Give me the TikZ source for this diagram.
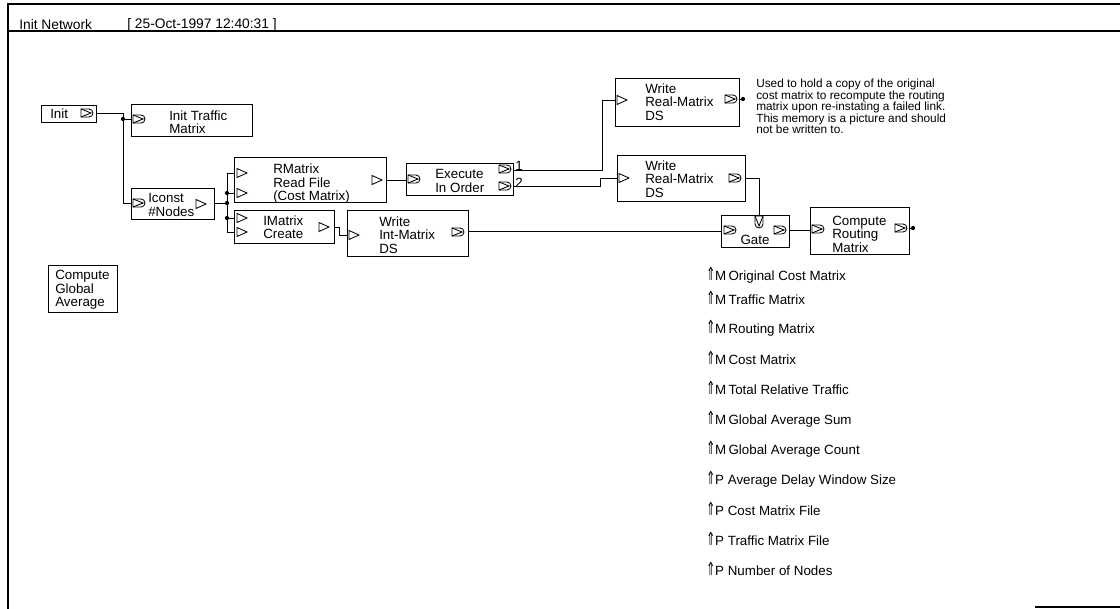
\documentclass[tikz,border=0pt]{standalone}
\usepackage{fontspec}
\usepackage{graphicx}
\setmainfont{Liberation Sans}
\newfontfamily\arrowfont{DejaVu Sans}
\usetikzlibrary{fit,positioning}

\tikzset{
  blk/.style={draw, line width=0.7pt, inner sep=0pt},
  txt/.style={anchor=west, inner sep=0pt, align=left, font=\fontsize{9.5}{9.6}\selectfont},
  note/.style={anchor=north west, inner sep=0pt, align=left, font=\fontsize{8.4}{8.1}\selectfont},
  item/.style={anchor=west, inner sep=0pt, font=\fontsize{9.5}{11}\selectfont},
  wire/.style={line width=0.7pt},
  jdot/.style={circle, fill, inner sep=0pt, minimum size=3pt},
  tri/.pic={\draw[line width=0.6pt] (-4,-4.5) -- (6,0) -- (-4,4.5) -- cycle;},
  dport/.pic={\draw[line width=0.6pt] (-6,-4) -- (2,-4) arc[start angle=-90, end angle=90, radius=4] -- (-6,4) -- cycle;
              \draw[line width=0.6pt] (-6,-4) -- (4,0) -- (-6,4);}
}
\newcommand{\uparr}{\scalebox{0.8}[1.35]{\arrowfont ⇑}}

\begin{document}
\begin{tikzpicture}[x=0.025cm, y=-0.025cm]
\useasboundingbox (0,0) rectangle (1120,609);

% frame and title bar
\draw[line width=0.8pt] (1120,4) -- (8,4) -- (8,609);
\draw[line width=0.8pt] (8,31) -- (1120,31);
\draw[line width=0.8pt] (1035,607) -- (1120,607);
\node[anchor=west, inner sep=0pt, font=\fontsize{9.8}{11}\selectfont] (title) at (19,25) {Init Network};
\node[anchor=west, inner sep=0pt, font=\fontsize{9.8}{11}\selectfont] (stamp) at (127,25) {[ 25-Oct-1997 12:40:31 ]};

% blocks
\node[blk, fit={(41,105) (96,122)}] (init) {};
\node[blk, fit={(131,104) (252,136)}] (itm) {};
\node[blk, fit={(131,188) (214,219)}] (iconst) {};
\node[blk, fit={(234,157) (386,202)}] (rmat) {};
\node[blk, fit={(234,210) (334,243)}] (imat) {};
\node[blk, fit={(347,210) (468,256)}] (wim) {};
\node[blk, fit={(406,163) (513,195)}] (exec) {};
\node[blk, fit={(615,78) (739,126)}] (wrm1) {};
\node[blk, fit={(617,155) (745,201)}] (wrm2) {};
\node[blk, fit={(721,215) (789,247)}] (gate) {};
\node[blk, fit={(810,207) (909,254)}] (crm) {};
\node[blk, fit={(48,265) (117,312)}] (cga) {};

% block texts
\node[txt] (init-t) at (50,114) {Init};
\node[txt] (itm-t) at (169,122) {Init Traffic\\Matrix};
\node[txt] (iconst-t) at (148,205) {Iconst\\\#Nodes};
\node[txt] (rmat-t) at (273,184) {RMatrix\\Read File\\(Cost Matrix)};
\node[txt] (imat-t) at (263,227) {IMatrix\\Create};
\node[txt] (wim-t) at (379,235) {Write\\Int-Matrix\\DS};
\node[txt] (exec-t) at (435,181) {Execute\\In Order};
\node[txt] (wrm1-t) at (645,102) {Write\\Real-Matrix\\DS};
\node[txt] (wrm2-t) at (645,179) {Write\\Real-Matrix\\DS};
\node[txt, anchor=center] (gate-t) at (755,240) {Gate};
\node[txt] (crm-t) at (832,234) {Compute\\Routing\\Matrix};
\node[txt] (cga-t) at (55,290) {Compute\\Global\\Average};
\node[txt] (one) at (515,166) {1};
\node[txt] (two) at (515,183) {2};

% ports
\pic at (87,113) {dport};
\pic at (139,119) {dport};
\pic at (139,203) {dport};
\pic at (200,204) {tri};
\foreach \y in {173,193} \pic at (241,\y) {tri};
\pic at (376,180) {tri};
\foreach \y in {218,232} \pic at (241,\y) {tri};
\pic at (323,227) {tri};
\pic at (353,235) {tri};
\pic at (458,232) {dport};
\pic at (414,179) {dport};
\foreach \y in {169,186} \pic at (505,\y) {dport};
\pic at (621,100) {tri};
\pic at (731,99) {dport};
\pic at (623,178) {tri};
\pic at (735,178) {dport};
\pic at (730,230) {dport};
\pic[rotate=-90] at (759,222) {dport};
\pic at (780,230) {dport};
\pic at (818,229) {dport};
\pic at (901,228) {dport};

% connection points
\coordinate (init-o) at (96,113);
\coordinate (bus1) at (123,113);
\coordinate (j1) at (123,119);
\coordinate (itm-i) at (131,119);
\coordinate (iconst-i) at (131,203);
\coordinate (iconst-o) at (214,203);
\coordinate (b-top) at (227,173);
\coordinate (b-bot) at (227,232);
\coordinate (rmat-i1) at (234,173);
\coordinate (rmat-i2) at (234,193);
\coordinate (imat-i1) at (234,218);
\coordinate (imat-i2) at (234,232);
\coordinate (imat-o) at (334,227);
\coordinate (wim-i) at (347,235);
\coordinate (wim-o) at (468,231);
\coordinate (rmat-o) at (386,180);
\coordinate (exec-i) at (406,180);
\coordinate (exec-o1) at (513,170);
\coordinate (exec-o2) at (513,186);
\coordinate (k1) at (602,170);
\coordinate (k2) at (600,186);
\coordinate (wrm1-i) at (615,100);
\coordinate (wrm2-i) at (617,178);
\coordinate (wrm1-o) at (739,99);
\coordinate (wrm2-o) at (745,178);
\coordinate (gate-top) at (759,215);
\coordinate (gate-i) at (721,231);
\coordinate (gate-o) at (789,230);
\coordinate (crm-i) at (810,230);
\coordinate (crm-o) at (909,228);

% wires
\draw[wire] (init-o) -- (bus1) |- (iconst-i);
\draw[wire] (j1) -- (itm-i);
\draw[wire] (iconst-o) -- (227,203);
\draw[wire] (rmat-i1) -- (b-top) -- (b-bot) -- (imat-i2);
\draw[wire] (227,193) -- (rmat-i2);
\draw[wire] (227,218) -- (imat-i1);
\draw[wire] (imat-o) -- ++(5,0) |- (wim-i);
\draw[wire] (rmat-o) -- (exec-i);
\draw[wire] (exec-o1) -- (k1) |- (wrm1-i);
\draw[wire] (exec-o2) -- (k2) |- (wrm2-i);
\draw[wire] (wrm1-o) -- ++(4,0) node[jdot] (d-wrm1) {};
\draw[wire] (wrm2-o) -| (gate-top);
\draw[wire] (wim-o) -- (gate-i);
\draw[wire] (gate-o) -- (crm-i);
\draw[wire] (crm-o) -- ++(4,0) node[jdot] (d-crm) {};
\node[jdot] (d1) at (j1) {};
\foreach \y in {193,203,218} \node[jdot] (d\y) at (227,\y) {};

% note
\node[note] (memo) at (756,79) {Used to hold a copy of the original\\cost matrix to recompute the routing\\matrix upon re-instating a failed link.\\This memory is a picture and should\\not be written to.};

% memories and parameters
\foreach \lab/\y [count=\i] in {M\,Original Cost Matrix/275, M\,Traffic Matrix/298,
    M\,Routing Matrix/328, M\,Cost Matrix/358, M\,Total Relative Traffic/388,
    M\,Global Average Sum/419, M\,Global Average Count/449,
    P Average Delay Window Size/479, P Cost Matrix File/509,
    P Traffic Matrix File/539, P Number of Nodes/569}
  \node[item] (mp\i) at (706,\y) {\uparr\lab};
\end{tikzpicture}
\end{document}
